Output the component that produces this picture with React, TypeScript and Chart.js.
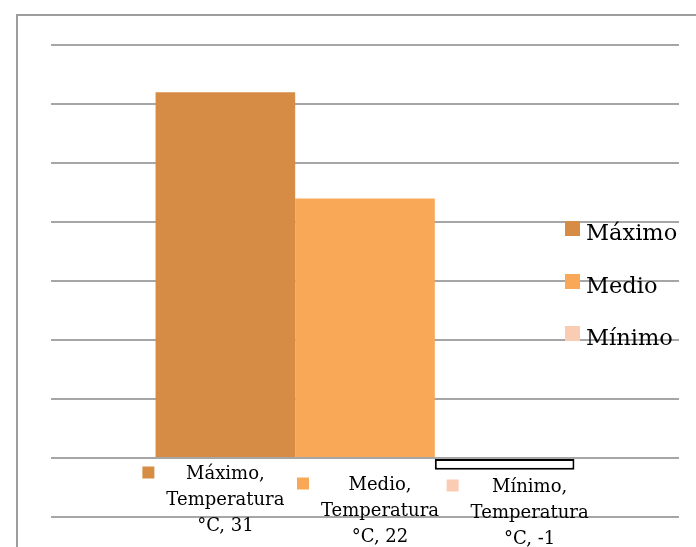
import React, { useEffect, useRef } from "react";
import { Chart, registerables } from "chart.js";

Chart.register(...registerables);

const seriesNames = ["Máximo", "Medio", "Mínimo"];
const categories = ["Temperatura °C"];
const maximoValues = [31];
const medioValues = [22];
const minimoValues = [-1];
const seriesColors = ["#D68C45", "#F9A857", "#FBCCB4"];
const yMin = -5;
const yMax = 35;
const yStep = 5;

const FONT = "'DejaVu Serif', serif";

const overlayPlugin = {
  id: "overlay",
  afterDraw(chart: any) {
    const ctx = chart.ctx;
    ctx.save();
    // outer frame
    ctx.strokeStyle = "#9d9d9d";
    ctx.lineWidth = 2;
    ctx.strokeRect(17, 15, 900, 900);

    const zeroY = chart.scales.y.getPixelForValue(0);
    const textDx = [0, 15, 25];
    const baseDy = [21, 32, 34];
    const lineH = 26;
    ctx.font = `18px ${FONT}`;
    ctx.fillStyle = "#000";
    ctx.textBaseline = "alphabetic";
    ctx.textAlign = "center";
    chart.data.datasets.forEach((ds: any, i: number) => {
      const bar = chart.getDatasetMeta(i).data[0];
      const value = ds.data[0];
      const parts = categories[0].split(" ");
      const lines = [`${ds.label},`, parts[0], `${parts[1]}, ${value}`];
      const cx = bar.x + textDx[i];
      const by = zeroY + baseDy[i];
      const w = Math.max(...lines.map((l) => ctx.measureText(l).width));
      ctx.fillStyle = seriesColors[i];
      ctx.fillRect(cx - w / 2 - 24, by - 12.5, 12, 12);
      ctx.fillStyle = "#000";
      lines.forEach((l, k) => ctx.fillText(l, cx, by + k * lineH));
    });

    // legend on the right
    ctx.font = `22.5px ${FONT}`;
    ctx.textAlign = "left";
    const legTops = [221, 274, 326];
    seriesNames.forEach((name, i) => {
      ctx.fillStyle = seriesColors[i];
      ctx.fillRect(565, legTops[i], 15, 15);
      ctx.fillStyle = "#000";
      ctx.fillText(name, 586, legTops[i] + 19);
    });
    ctx.restore();
  },
};

export default function App() {
  const ref = useRef<HTMLCanvasElement>(null);
  useEffect(() => {
    if (!ref.current) return;
    const chart = new Chart(ref.current, {
      type: "bar",
      data: {
        labels: categories,
        datasets: [
          {
            label: seriesNames[0],
            data: maximoValues,
            backgroundColor: seriesColors[0],
            borderWidth: 0,
          },
          {
            label: seriesNames[1],
            data: medioValues,
            backgroundColor: seriesColors[1],
            borderWidth: 0,
          },
          {
            label: seriesNames[2],
            data: minimoValues,
            backgroundColor: "#ffffff",
            borderColor: "#000000",
            borderWidth: 2,
            borderSkipped: false,
          },
        ],
      },
      options: {
        animation: false,
        responsive: false,
        maintainAspectRatio: false,
        layout: { padding: { left: 51, top: 45, right: 17, bottom: 30 } },
        datasets: { bar: { categoryPercentage: 0.667, barPercentage: 1 } },
        plugins: { legend: { display: false }, tooltip: { enabled: false } },
        scales: {
          x: { display: false, grid: { display: false } },
          y: {
            min: yMin,
            max: yMax,
            ticks: { stepSize: yStep, display: false },
            border: { display: false },
            grid: { color: "#a6a6a6", lineWidth: 2, drawTicks: false },
          },
        },
      },
      plugins: [overlayPlugin],
    });
    return () => chart.destroy();
  }, []);
  return (
    <div style={{ position: "fixed", left: 0, top: 0, width: 696, height: 547, background: "#fff" }}>
      <canvas ref={ref} width={696} height={547} style={{ display: "block" }} />
    </div>
  );
}
